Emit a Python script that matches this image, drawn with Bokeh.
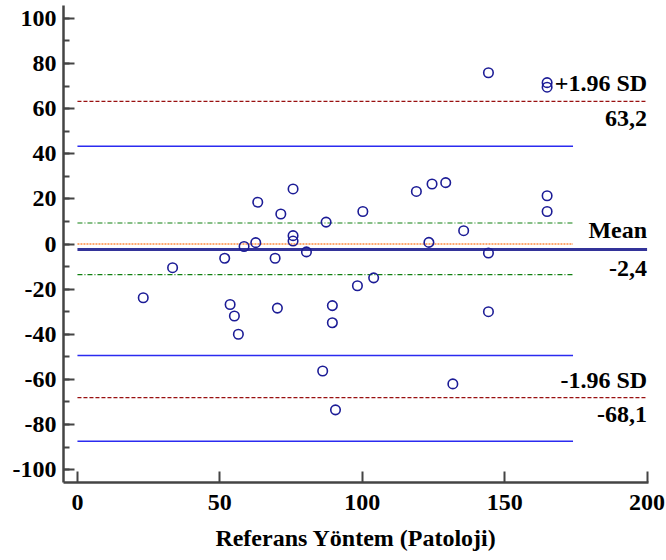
from bokeh.plotting import figure
from bokeh.models import ColumnDataSource, FixedTicker, Range1d
from bokeh.core.properties import value
from bokeh.embed import file_html
from bokeh.resources import INLINE

# ---- data ----
ref_x = [23.1, 33.4, 51.7, 53.6, 55.1, 56.5, 58.5, 62.6, 63.3, 69.4, 70.2, 71.4,
         75.7, 75.7, 75.7, 80.4, 86.1, 87.3, 89.5, 89.5, 90.6, 98.3, 100.2, 104.0,
         119.0, 123.4, 124.5, 129.3, 131.8, 135.6, 144.3, 144.3, 144.3,
         164.9, 164.9, 164.9, 164.9]
diff_y = [-23.8, -10.5, -6.3, -26.8, -31.9, -40.0, -1.1, 0.6, 18.5, -6.3, -28.4, 13.3,
          24.4, 3.7, 1.3, -3.5, -56.3, 9.7, -27.3, -34.9, -73.5, -18.5, 14.4, -15.0,
          23.3, 0.7, 26.6, 27.2, -62.0, 5.9, 75.9, -4.0, -30.0,
          71.5, 69.5, 21.4, 14.4]

mean_diff = -2.4
loa_upper = 63.2
loa_lower = -68.1
mean_ci = [9.3, -13.6]
loa_ci = [43.3, -49.4, -87.4]
zero_level = 0.0
ci_line_end = 174.0
x_end = 200.0

x_ticks = [0, 50, 100, 150, 200]
y_ticks = [-100, -80, -60, -40, -20, 0, 20, 40, 60, 80, 100]
y_minor = list(range(-100, 101, 10))
x_title = "Referans Yöntem (Patoloji)"

FONT = "Liberation Serif"
FSIZE = "24px"

p = figure(width=666, height=560, output_backend="svg", toolbar_location=None,
           x_range=Range1d(-4.9, 200.5), y_range=Range1d(-105.7, 105.7),
           min_border_left=63, min_border_right=18, min_border_top=5, min_border_bottom=78)
p.outline_line_color = None
p.xgrid.grid_line_color = None
p.ygrid.grid_line_color = None
p.background_fill_color = "white"
p.border_fill_color = "white"

# reference lines
for lvl in loa_ci:
    p.line([0, ci_line_end], [lvl, lvl], line_color="#2b2bf0", line_width=1.5)
for lvl in mean_ci:
    p.line([0, ci_line_end], [lvl, lvl], line_color="#108010", line_width=1.2,
           line_dash="5 2 1 2")
p.line([0, ci_line_end], [zero_level, zero_level], line_color="#ff8c40", line_width=1.5,
       line_dash="2 1")
for lvl in (loa_upper, loa_lower):
    p.line([0, x_end], [lvl, lvl], line_color="#991010", line_width=1.2, line_dash="4 2")
p.line([0, x_end], [mean_diff, mean_diff], line_color="#333399", line_width=3)

# points
p.scatter(ref_x, diff_y, marker="circle", size=9.5, fill_color=None,
          line_color="#1c1c96", line_width=1.6)

# right-hand labels
def fmt(v):
    return ("%.1f" % v).replace(".", ",")

lab = ColumnDataSource(dict(
    x=[x_end] * 6,
    y=[loa_upper, loa_upper, mean_diff, mean_diff, loa_lower, loa_lower],
    t=["+1.96 SD", fmt(loa_upper), "Mean", fmt(mean_diff), "-1.96 SD", fmt(loa_lower)],
    off=[-18, 17, -19, 19, -18, 17],
))
p.text(x="x", y="y", text="t", y_offset="off", source=lab, text_align="right",
       text_baseline="alphabetic", text_font=value(FONT), text_font_style="bold",
       text_font_size=FSIZE, text_color="black")

# axes
for ax in (p.xaxis[0], p.yaxis[0]):
    ax.axis_line_color = "#444444"
    ax.axis_line_width = 2.5
    ax.major_tick_line_color = "#444444"
    ax.major_tick_line_width = 2
    ax.major_tick_in = 11
    ax.major_tick_out = 0
    ax.major_label_text_font = FONT
    ax.major_label_text_font_style = "bold"
    ax.major_label_text_font_size = FSIZE
    ax.major_label_text_color = "black"

p.xaxis.ticker = FixedTicker(ticks=x_ticks)
p.xaxis.minor_tick_line_color = None
p.xaxis.major_label_standoff = 12
p.xaxis.major_label_overrides = {t: str(t) for t in x_ticks}
p.xaxis.axis_label = x_title
p.xaxis.axis_label_text_font = FONT
p.xaxis.axis_label_text_font_style = "bold"
p.xaxis.axis_label_text_font_size = FSIZE
p.xaxis.axis_label_text_color = "black"
p.xaxis.axis_label_standoff = 12

p.yaxis.ticker = FixedTicker(ticks=y_ticks, minor_ticks=y_minor)
p.yaxis.minor_tick_line_color = "#444444"
p.yaxis.minor_tick_line_width = 2
p.yaxis.minor_tick_in = 6
p.yaxis.minor_tick_out = 0
p.yaxis.major_label_standoff = 7
p.yaxis.major_label_overrides = {t: str(t) for t in y_ticks}

open("out.html", "w").write(file_html(p, INLINE))
